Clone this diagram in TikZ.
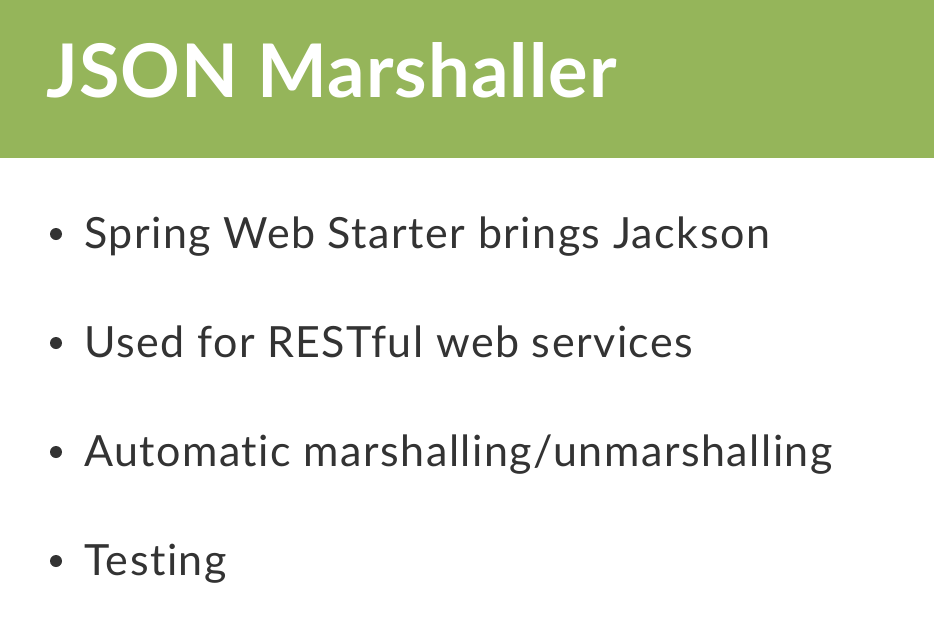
\documentclass[tikz,border=0pt]{standalone}
\usepackage{fontspec}
\setmainfont{Lato}[Ligatures=NoCommon]
\newfontfamily\titlefont{Lato}[Ligatures=NoCommon,LetterSpace=1.4]
\newfontfamily\bodyfont{Lato}[Ligatures=NoCommon,LetterSpace=3.5]
\definecolor{bandgreen}{RGB}{149,181,90}
\definecolor{textgray}{RGB}{51,51,51}
\begin{document}
\begin{tikzpicture}[x=1pt,y=-1pt,
  titletext/.style={anchor=base west,inner sep=0pt,text=white,font=\titlefont\fontsize{74}{80}\selectfont\bfseries},
  bullettext/.style={anchor=base west,inner sep=0pt,text=textgray,font=\bodyfont\fontsize{43}{48}\selectfont},
  dot/.style={circle,fill=textgray,inner sep=0pt,minimum size=12pt}]
\useasboundingbox (0,0) rectangle (934,632);
\fill[white] (0,0) rectangle (934,632);
\fill[bandgreen] (0,0) rectangle (934,158);
\node[titletext] (title) at (46,97) {JSON Marshaller};
\node[dot] (d1) at (56,234) {};
\node[bullettext] (b1) at (84,248) {Spring Web Starter brings Jackson};
\node[dot] (d2) at (56,343) {};
\node[bullettext] (b2) at (84,357) {Used for RESTful web services};
\node[dot] (d3) at (56,452) {};
\node[bullettext] (b3) at (84,466) {Automatic marshalling/unmarshalling};
\node[dot] (d4) at (56,561) {};
\node[bullettext] (b4) at (84,575) {Testing};
\end{tikzpicture}
\end{document}
